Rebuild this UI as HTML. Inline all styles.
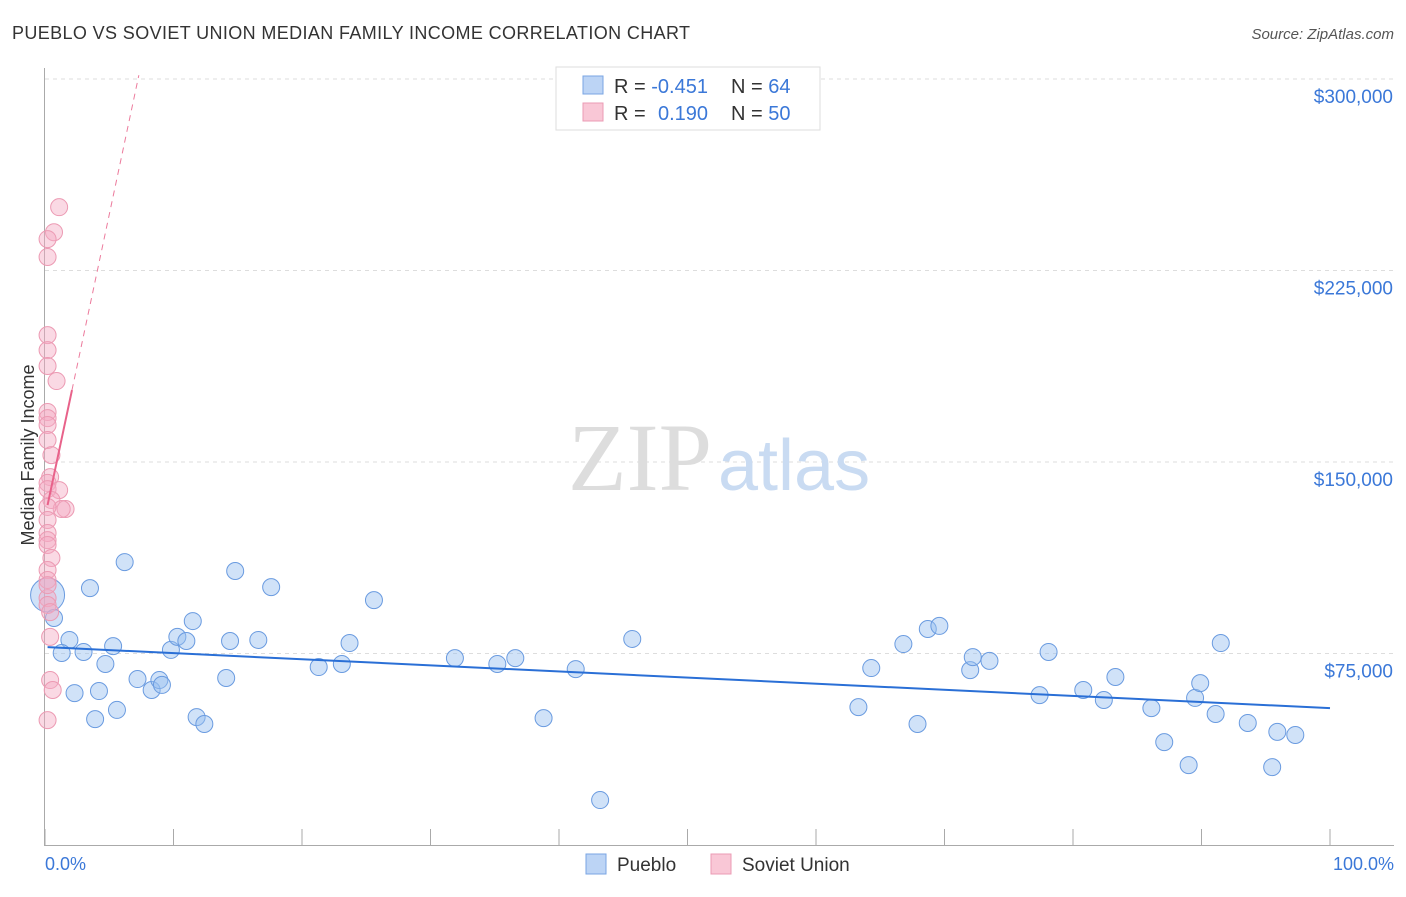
<!DOCTYPE html>
<html><head><meta charset="utf-8"><style>
body{margin:0;background:#fff;font-family:"Liberation Sans",sans-serif;}
</style></head><body>
<svg width="1406" height="892" viewBox="0 0 1406 892" xmlns="http://www.w3.org/2000/svg" font-family="Liberation Sans, sans-serif">
<text x="12" y="39" font-size="18" fill="#333" textLength="678">PUEBLO VS SOVIET UNION MEDIAN FAMILY INCOME CORRELATION CHART</text>
<text x="1394" y="39" font-size="15" fill="#555" font-style="italic" text-anchor="end">Source: ZipAtlas.com</text>
<g id="grid"></g>
<text x="712" y="490" font-size="96" fill="#ddd" text-anchor="end" font-family="Liberation Serif, serif">ZIP</text>
<text x="718" y="490" font-size="72" fill="#c9dbf2">atlas</text>
<text x="34" y="455" font-size="18" fill="#333" text-anchor="middle" transform="rotate(-90 34 455)">Median Family Income</text>
<g id="marks"></g>
<text x="45" y="870" font-size="18" fill="#3b78d8">0.0%</text>
<text x="1394" y="870" font-size="18" fill="#3b78d8" text-anchor="end">100.0%</text>
<g>
<rect x="556" y="67" width="264" height="63" fill="#fff" stroke="#ddd"/>
<rect x="583" y="76" width="20" height="18" fill="#bcd4f5" stroke="#7aa5e3"/>
<rect x="583" y="103" width="20" height="18" fill="#f9c7d6" stroke="#eb9bb4"/>
<text x="614" y="93" font-size="20" fill="#333">R = <tspan fill="#3b78d8">-0.451</tspan><tspan x="731">N = </tspan><tspan fill="#3b78d8">64</tspan></text>
<text x="614" y="120" font-size="20" fill="#333">R = <tspan x="658" fill="#3b78d8">0.190</tspan><tspan x="731">N = </tspan><tspan fill="#3b78d8">50</tspan></text>
</g>
<g>
<rect x="586" y="854" width="20" height="20" fill="#bcd4f5" stroke="#7aa5e3"/>
<text x="617" y="871" font-size="19" fill="#333">Pueblo</text>
<rect x="711" y="854" width="20" height="20" fill="#f9c7d6" stroke="#eb9bb4"/>
<text x="742" y="871" font-size="19" fill="#333">Soviet Union</text>
</g>
</svg>
<script>
const yTicks=[75000,150000,225000,300000];
const yTickLabels=["$75,000","$150,000","$225,000","$300,000"];
const xTicks=[0,10,20,30,40,50,60,70,80,90,100];
const puebloX=[0.2,0.7,1.9,1.3,3.0,2.3,3.5,3.9,4.2,4.7,5.3,5.6,6.2,7.2,8.3,8.9,9.1,9.8,10.3,11.0,11.5,11.8,12.4,14.1,14.4,14.8,16.6,17.6,21.3,23.1,23.7,25.6,31.9,35.2,36.6,38.8,41.3,43.2,45.7,63.3,64.3,66.8,67.9,68.7,69.6,72.0,72.2,73.5,77.4,78.1,80.8,82.4,83.3,86.1,87.1,89.0,89.5,89.9,91.1,91.5,93.6,95.5,95.9,97.3];
const puebloY=[97.9,88.9,80.3,75.2,75.6,59.5,100.6,49.3,60.3,70.9,77.9,52.9,110.8,65.0,60.7,64.6,62.7,76.4,81.5,79.9,87.7,50.1,47.4,65.4,79.9,107.3,80.3,101.0,69.7,70.9,79.1,95.9,73.2,70.9,73.2,49.7,68.9,17.6,80.7,54.0,69.3,78.7,47.4,84.6,85.8,68.5,73.6,72.1,58.7,75.6,60.7,56.8,65.8,53.6,40.3,31.3,57.6,63.4,51.3,79.1,47.8,30.5,44.3,43.1];
const sovietX=[1.1,0.7,0.2,0.2,0.2,0.2,0.2,0.9,0.2,0.2,0.2,0.2,0.5,0.4,0.2,0.2,1.1,0.5,1.6,1.3,0.2,0.2,0.2,0.2,0.2,0.5,0.2,0.2,0.2,0.2,0.4,0.2,0.4,0.4,0.6,0.2];
const sovietY=[249.8,240.0,237.3,230.3,199.7,193.8,187.6,181.7,169.6,167.2,164.5,158.6,152.7,144.1,141.8,139.4,139.0,135.1,131.6,131.6,132.4,127.3,122.2,119.4,117.5,112.4,107.7,103.8,96.7,94.0,91.2,101.8,81.5,64.6,60.7,48.9];
const puebloTrend=[77.5,53.6];
const sovietTrend=[128.4,23.7];
const NS="http://www.w3.org/2000/svg";
const X=p=>45+p*12.85;
const Y=v=>845-v/75000*191.5;
function mk(t,a,parent){const e=document.createElementNS(NS,t);for(const k in a)e.setAttribute(k,a[k]);parent.appendChild(e);return e;}
const grid=document.getElementById('grid'),marks=document.getElementById('marks');
yTicks.forEach((v,i)=>{
 const l=mk('line',{x1:45,x2:1394,y1:Y(v),y2:Y(v),stroke:'#ddd','stroke-dasharray':'4 4'},grid);
 
 
 const t=mk('text',{x:1393,y:Y(v)+24,'font-size':19,fill:'#3b78d8','text-anchor':'end'},grid);
 t.textContent=yTickLabels[i];
 
 
});
const ax=mk('line',{x1:44.5,x2:44.5,y1:68,y2:845,stroke:'#aaa'},grid);


const bx=mk('line',{x1:44,x2:1394,y1:845.5,y2:845.5,stroke:'#aaa'},grid);


xTicks.forEach(p=>{
 const t=mk('line',{x1:X(p),x2:X(p),y1:829,y2:845,stroke:'#aaa'},grid);
 
 
});
puebloX.forEach((p,i)=>{
 const c=mk('circle',{cx:X(p),cy:Y(puebloY[i]*1000),r:i==0?17:8.5,fill:'rgba(150,190,240,0.45)',stroke:'#6a9be0','stroke-width':1},marks);
 
 
});
sovietX.forEach((p,i)=>{
 const c=mk('circle',{cx:X(p),cy:Y(sovietY[i]*1000),r:8.5,fill:'rgba(245,170,195,0.45)',stroke:'#ec9ab3','stroke-width':1},marks);
 
 
});
const bl=mk('line',{x1:X(0.2),y1:Y(puebloTrend[0]*1000),x2:X(100),y2:Y(puebloTrend[1]*1000),stroke:'#2a6fd6','stroke-width':2},marks);


const sv=x=>(sovietTrend[0]+sovietTrend[1]*x)*1000;
const xEnd=(301500/1000-sovietTrend[0])/sovietTrend[1];
const sd=mk('line',{x1:X(2.1),y1:Y(sv(2.1)),x2:X(xEnd),y2:Y(sv(xEnd)),stroke:'#ec7a9c','stroke-width':1,'stroke-dasharray':'6 5'},marks);


const sl=mk('line',{x1:X(0.2),y1:Y(sv(0.2)),x2:X(2.1),y2:Y(sv(2.1)),stroke:'#e8628a','stroke-width':2},marks);


</script>
</body></html>
